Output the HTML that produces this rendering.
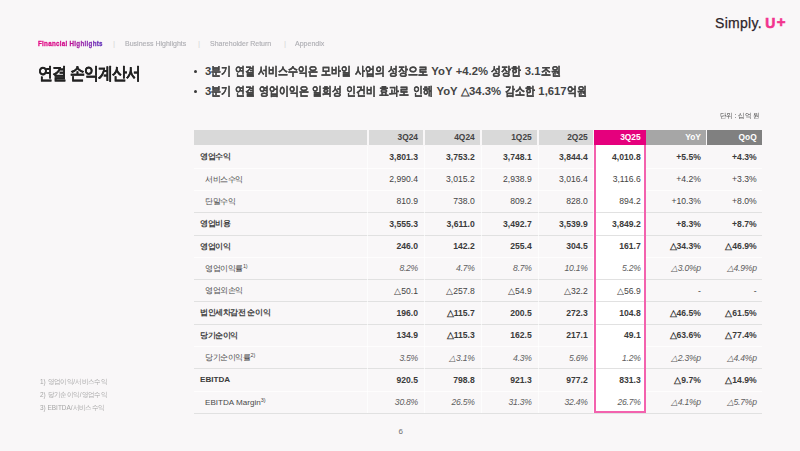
<!DOCTYPE html>
<html><head><meta charset="utf-8">
<style>
*{margin:0;padding:0;box-sizing:border-box}
html,body{width:800px;height:451px;overflow:hidden;background:#f9f7f8;font-family:"Liberation Sans",sans-serif;color:#333}
.abs{position:absolute;white-space:nowrap;transform-origin:0 0}
.k{display:inline-block;transform-origin:0 50%}
.nav{font-weight:bold;color:#b9b9bd;line-height:10px}
.on{background:linear-gradient(90deg,#e4007f 0%,#d0088a 40%,#8a28b0 75%,#5a2db8 100%);-webkit-background-clip:text;background-clip:text;color:transparent}
.sep{color:#d6d6d6;line-height:10px}
.title{font-weight:bold;color:#222;line-height:23px}
.bul{font-weight:bold;color:#444;line-height:16px}
.dot{position:absolute;width:3px;height:3px;border-radius:50%;background:#3a3a3a}
.unit{color:#3a3a3a;line-height:10px}
.logo{color:#2d2328;line-height:16px}
.logo span{color:#f2348e;font-weight:bold}
.foot{color:#a5a5a5;line-height:10px}
.hd{position:absolute;top:130px;height:14.5px;background:#d9d9d9;color:#444;font-size:8.4px;font-weight:bold;text-align:right;padding-right:5.3px;line-height:15px}
.r{position:absolute;left:194px;width:568px;height:22.3px}
.r .c{position:absolute;top:0.1px;height:22.3px;line-height:22.3px;font-size:8.6px;text-align:right;color:#444;padding-right:5.3px;white-space:nowrap}
.r .lab{position:absolute;top:0.6px;height:22.3px;line-height:22.3px;font-size:8.1px;color:#4a4a4a;white-space:nowrap}
.r.b .c,.r.b .lab{font-weight:bold;color:#3b3b3b}
.r.it .c{font-style:italic;color:#5e5e5e;letter-spacing:-0.25px}
.lab sup{font-size:5.5px;vertical-align:3px;line-height:0;letter-spacing:-0.2px;font-weight:normal}
.ln{position:absolute;left:194px;width:568px}
.ln.g{height:1px;background:#e1e1e1}
.ln.w{height:1px;background:rgba(255,255,255,.75)}
.vl{position:absolute;top:146px;width:1px;height:267px;background:rgba(255,255,255,.7)}
.boxbg{position:absolute;background:#fff}
.boxb{position:absolute;border:2px solid #f362ae;border-top:none}
</style></head><body>
<div id="logo" class="abs logo" style="left:715px;top:16px;font-size:14px;line-height:14px;letter-spacing:0.3px;-webkit-text-stroke:0.25px #2d2328">Simply.</div>
<div id="logoU" class="abs logo" style="left:765px;top:16px;font-size:14px;line-height:14px;color:#f2348e;font-weight:bold;-webkit-text-stroke:0.6px #f2348e;left:765.3px">U</div>
<div id="logoP" class="abs logo" style="left:776px;top:16px;font-size:14px;line-height:14px;color:#f2348e;font-weight:bold;-webkit-text-stroke:0.6px #f2348e;left:776.8px;font-size:15px;top:15px">+</div>
<div id="nav1" class="abs nav on" style="left:38px;top:39px;font-size:7.6px;font-size:7.8px;letter-spacing:0.35px;transform:scaleX(0.80);-webkit-text-stroke:0.3px transparent">Financial Highlights</div>
<div id="sep1" class="abs sep" style="left:113px;top:39px;font-size:8px">|</div>
<div id="nav2" class="abs nav" style="left:125px;top:39px;font-size:7.6px;font-weight:normal;letter-spacing:0px;font-size:7.8px;transform:scaleX(0.9);-webkit-text-stroke:0.15px #aeaeb3;color:#aeaeb3">Business Highlights</div>
<div id="sep2" class="abs sep" style="left:198px;top:39px;font-size:8px">|</div>
<div id="nav3" class="abs nav" style="left:210px;top:39px;font-size:7.6px;font-weight:normal;letter-spacing:0px;font-size:7.8px;transform:scaleX(0.9);-webkit-text-stroke:0.15px #aeaeb3;color:#aeaeb3">Shareholder Return</div>
<div id="sep3" class="abs sep" style="left:284px;top:39px;font-size:8px">|</div>
<div id="nav4" class="abs nav" style="left:295px;top:39px;font-size:7.6px;font-weight:normal;letter-spacing:0px;font-size:7.8px;transform:scaleX(0.9);-webkit-text-stroke:0.15px #aeaeb3;color:#aeaeb3">Appendix</div>
<div id="title" class="abs title" style="left:38px;top:62px;font-size:17px;word-spacing:-1px"><span class="k" style="transform:scaleX(0.88);margin-right:-3.82px;letter-spacing:-1.1px;-webkit-text-stroke:0.2px">연결</span> <span class="k" style="transform:scaleX(0.88);margin-right:-9.54px;letter-spacing:-1.1px;-webkit-text-stroke:0.2px">손익계산서</span></div>
<div class="dot" style="left:194.3px;top:69.5px"></div><div class="dot" style="left:194.3px;top:89.7px"></div>
<div id="bul1" class="abs bul" style="left:205px;top:63px;font-size:11.8px;word-spacing:0.25px"><span style="font-size:11.3px;">3</span><span class="k" style="transform:scaleX(0.83);margin-right:-4.01px;letter-spacing:0px;-webkit-text-stroke:0.25px">분기</span><span style="font-size:11.3px;"> </span><span class="k" style="transform:scaleX(0.83);margin-right:-4.01px;letter-spacing:0px;-webkit-text-stroke:0.25px">연결</span><span style="font-size:11.3px;"> </span><span class="k" style="transform:scaleX(0.83);margin-right:-12.04px;letter-spacing:0px;-webkit-text-stroke:0.25px">서비스수익은</span><span style="font-size:11.3px;"> </span><span class="k" style="transform:scaleX(0.83);margin-right:-6.02px;letter-spacing:0px;-webkit-text-stroke:0.25px">모바일</span><span style="font-size:11.3px;"> </span><span class="k" style="transform:scaleX(0.83);margin-right:-6.02px;letter-spacing:0px;-webkit-text-stroke:0.25px">사업의</span><span style="font-size:11.3px;"> </span><span class="k" style="transform:scaleX(0.83);margin-right:-8.02px;letter-spacing:0px;-webkit-text-stroke:0.25px">성장으로</span><span style="font-size:11.3px;"> YoY +4.2% </span><span class="k" style="transform:scaleX(0.83);margin-right:-6.02px;letter-spacing:0px;-webkit-text-stroke:0.25px">성장한</span><span style="font-size:11.3px;"> 3.1</span><span class="k" style="transform:scaleX(0.83);margin-right:-4.01px;letter-spacing:0px;-webkit-text-stroke:0.25px">조원</span></div>
<div id="bul2" class="abs bul" style="left:205px;top:83px;font-size:11.8px;word-spacing:0.5px"><span style="font-size:11.3px;">3</span><span class="k" style="transform:scaleX(0.83);margin-right:-4.01px;letter-spacing:0px;-webkit-text-stroke:0.25px">분기</span><span style="font-size:11.3px;"> </span><span class="k" style="transform:scaleX(0.83);margin-right:-4.01px;letter-spacing:0px;-webkit-text-stroke:0.25px">연결</span><span style="font-size:11.3px;"> </span><span class="k" style="transform:scaleX(0.83);margin-right:-10.03px;letter-spacing:0px;-webkit-text-stroke:0.25px">영업이익은</span><span style="font-size:11.3px;"> </span><span class="k" style="transform:scaleX(0.83);margin-right:-6.02px;letter-spacing:0px;-webkit-text-stroke:0.25px">일회성</span><span style="font-size:11.3px;"> </span><span class="k" style="transform:scaleX(0.83);margin-right:-6.02px;letter-spacing:0px;-webkit-text-stroke:0.25px">인건비</span><span style="font-size:11.3px;"> </span><span class="k" style="transform:scaleX(0.83);margin-right:-6.02px;letter-spacing:0px;-webkit-text-stroke:0.25px">효과로</span><span style="font-size:11.3px;"> </span><span class="k" style="transform:scaleX(0.83);margin-right:-4.01px;letter-spacing:0px;-webkit-text-stroke:0.25px">인해</span><span style="font-size:11.3px;"> YoY △34.3% </span><span class="k" style="transform:scaleX(0.83);margin-right:-6.02px;letter-spacing:0px;-webkit-text-stroke:0.25px">감소한</span><span style="font-size:11.3px;"> 1,617</span><span class="k" style="transform:scaleX(0.83);margin-right:-4.01px;letter-spacing:0px;-webkit-text-stroke:0.25px">억원</span></div>
<div id="unit" class="abs unit" style="left:720px;top:111px;font-size:7px;font-size:7px;letter-spacing:0px;transform:scaleX(0.92)">단위 : 십억 원</div>
<div class="hd" style="left:194px;width:172.8px"></div>
<div class="hd" style="left:368.7px;width:54.6px;background:#d9d9d9;color:#444">3Q24</div>
<div class="hd" style="left:425px;width:55.0px;background:#d9d9d9;color:#444">4Q24</div>
<div class="hd" style="left:481.5px;width:55.5px;background:#d9d9d9;color:#444">1Q25</div>
<div class="hd" style="left:538.5px;width:54.5px;background:#d9d9d9;color:#444">2Q25</div>
<div class="hd" style="left:593.8px;width:52.2px;background:#e5007d;color:#fff">3Q25</div>
<div class="hd" style="left:646px;width:60.2px;background:#a6a6a6;color:#fff">YoY</div>
<div class="hd" style="left:707px;width:55.0px;background:#808080;color:#fff">QoQ</div>
<div class="boxbg" style="left:594px;top:144.5px;width:52px;height:268.5px"></div>
<div class="ln w" style="top:167.6px"></div>
<div class="ln w" style="top:189.9px"></div>
<div class="ln g" style="top:212.2px"></div>
<div class="ln g" style="top:234.5px"></div>
<div class="ln w" style="top:256.8px"></div>
<div class="ln g" style="top:279.1px"></div>
<div class="ln g" style="top:301.4px"></div>
<div class="ln g" style="top:323.7px"></div>
<div class="ln w" style="top:346.0px"></div>
<div class="ln g" style="top:368.3px"></div>
<div class="ln w" style="top:390.6px"></div>
<div class="ln g" style="top:412.9px"></div>
<div class="vl" style="left:367.3px"></div>
<div class="vl" style="left:424px"></div>
<div class="vl" style="left:480.6px"></div>
<div class="vl" style="left:537.6px"></div>
<div class="vl" style="left:593px"></div>
<div class="r b" style="top:145.8px">
<div class="lab" id="lab0" style="left:6px"><span style="letter-spacing:-0.4px">영업수익</span></div>
<div class="c" style="left:174.7px;width:54.6px">3,801.3</div>
<div class="c" style="left:231.0px;width:55.0px">3,753.2</div>
<div class="c" style="left:287.5px;width:55.5px">3,748.1</div>
<div class="c" style="left:344.5px;width:54.5px">3,844.4</div>
<div class="c" style="left:399.8px;width:52.2px">4,010.8</div>
<div class="c" style="left:452.0px;width:60.2px">+5.5%</div>
<div class="c" style="left:513.0px;width:55.0px">+4.3%</div>
</div>
<div class="r s" style="top:168.1px">
<div class="lab" id="lab1" style="left:11px"><span style="letter-spacing:-0.4px">서비스수익</span></div>
<div class="c" style="left:174.7px;width:54.6px">2,990.4</div>
<div class="c" style="left:231.0px;width:55.0px">3,015.2</div>
<div class="c" style="left:287.5px;width:55.5px">2,938.9</div>
<div class="c" style="left:344.5px;width:54.5px">3,016.4</div>
<div class="c" style="left:399.8px;width:52.2px">3,116.6</div>
<div class="c" style="left:452.0px;width:60.2px">+4.2%</div>
<div class="c" style="left:513.0px;width:55.0px">+3.3%</div>
</div>
<div class="r s" style="top:190.4px">
<div class="lab" id="lab2" style="left:11px"><span style="letter-spacing:-0.4px">단말수익</span></div>
<div class="c" style="left:174.7px;width:54.6px">810.9</div>
<div class="c" style="left:231.0px;width:55.0px">738.0</div>
<div class="c" style="left:287.5px;width:55.5px">809.2</div>
<div class="c" style="left:344.5px;width:54.5px">828.0</div>
<div class="c" style="left:399.8px;width:52.2px">894.2</div>
<div class="c" style="left:452.0px;width:60.2px">+10.3%</div>
<div class="c" style="left:513.0px;width:55.0px">+8.0%</div>
</div>
<div class="r b" style="top:212.7px">
<div class="lab" id="lab3" style="left:6px"><span style="letter-spacing:-0.4px">영업비용</span></div>
<div class="c" style="left:174.7px;width:54.6px">3,555.3</div>
<div class="c" style="left:231.0px;width:55.0px">3,611.0</div>
<div class="c" style="left:287.5px;width:55.5px">3,492.7</div>
<div class="c" style="left:344.5px;width:54.5px">3,539.9</div>
<div class="c" style="left:399.8px;width:52.2px">3,849.2</div>
<div class="c" style="left:452.0px;width:60.2px">+8.3%</div>
<div class="c" style="left:513.0px;width:55.0px">+8.7%</div>
</div>
<div class="r b" style="top:235.0px">
<div class="lab" id="lab4" style="left:6px"><span style="letter-spacing:-0.4px">영업이익</span></div>
<div class="c" style="left:174.7px;width:54.6px">246.0</div>
<div class="c" style="left:231.0px;width:55.0px">142.2</div>
<div class="c" style="left:287.5px;width:55.5px">255.4</div>
<div class="c" style="left:344.5px;width:54.5px">304.5</div>
<div class="c" style="left:399.8px;width:52.2px">161.7</div>
<div class="c" style="left:452.0px;width:60.2px">△34.3%</div>
<div class="c" style="left:513.0px;width:55.0px">△46.9%</div>
</div>
<div class="r it" style="top:257.3px">
<div class="lab" id="lab5" style="left:11px"><span style="letter-spacing:-0.4px">영업이익률</span><sup>1)</sup></div>
<div class="c" style="left:174.7px;width:54.6px">8.2%</div>
<div class="c" style="left:231.0px;width:55.0px">4.7%</div>
<div class="c" style="left:287.5px;width:55.5px">8.7%</div>
<div class="c" style="left:344.5px;width:54.5px">10.1%</div>
<div class="c" style="left:399.8px;width:52.2px">5.2%</div>
<div class="c" style="left:452.0px;width:60.2px">△3.0%p</div>
<div class="c" style="left:513.0px;width:55.0px">△4.9%p</div>
</div>
<div class="r s" style="top:279.6px">
<div class="lab" id="lab6" style="left:11px"><span style="letter-spacing:-0.4px">영업외손익</span></div>
<div class="c" style="left:174.7px;width:54.6px">△50.1</div>
<div class="c" style="left:231.0px;width:55.0px">△257.8</div>
<div class="c" style="left:287.5px;width:55.5px">△54.9</div>
<div class="c" style="left:344.5px;width:54.5px">△32.2</div>
<div class="c" style="left:399.8px;width:52.2px">△56.9</div>
<div class="c" style="left:452.0px;width:60.2px">-</div>
<div class="c" style="left:513.0px;width:55.0px">-</div>
</div>
<div class="r b" style="top:301.9px">
<div class="lab" id="lab7" style="left:6px"><span style="letter-spacing:-0.4px">법인세차감전 순이익</span></div>
<div class="c" style="left:174.7px;width:54.6px">196.0</div>
<div class="c" style="left:231.0px;width:55.0px">△115.7</div>
<div class="c" style="left:287.5px;width:55.5px">200.5</div>
<div class="c" style="left:344.5px;width:54.5px">272.3</div>
<div class="c" style="left:399.8px;width:52.2px">104.8</div>
<div class="c" style="left:452.0px;width:60.2px">△46.5%</div>
<div class="c" style="left:513.0px;width:55.0px">△61.5%</div>
</div>
<div class="r b" style="top:324.2px">
<div class="lab" id="lab8" style="left:6px"><span style="letter-spacing:-0.4px">당기순이익</span></div>
<div class="c" style="left:174.7px;width:54.6px">134.9</div>
<div class="c" style="left:231.0px;width:55.0px">△115.3</div>
<div class="c" style="left:287.5px;width:55.5px">162.5</div>
<div class="c" style="left:344.5px;width:54.5px">217.1</div>
<div class="c" style="left:399.8px;width:52.2px">49.1</div>
<div class="c" style="left:452.0px;width:60.2px">△63.6%</div>
<div class="c" style="left:513.0px;width:55.0px">△77.4%</div>
</div>
<div class="r it" style="top:346.5px">
<div class="lab" id="lab9" style="left:11px"><span style="letter-spacing:-0.4px">당기순이익률</span><sup>2)</sup></div>
<div class="c" style="left:174.7px;width:54.6px">3.5%</div>
<div class="c" style="left:231.0px;width:55.0px">△3.1%</div>
<div class="c" style="left:287.5px;width:55.5px">4.3%</div>
<div class="c" style="left:344.5px;width:54.5px">5.6%</div>
<div class="c" style="left:399.8px;width:52.2px">1.2%</div>
<div class="c" style="left:452.0px;width:60.2px">△2.3%p</div>
<div class="c" style="left:513.0px;width:55.0px">△4.4%p</div>
</div>
<div class="r b" style="top:368.8px">
<div class="lab" id="lab10" style="left:6px">EBITDA</div>
<div class="c" style="left:174.7px;width:54.6px">920.5</div>
<div class="c" style="left:231.0px;width:55.0px">798.8</div>
<div class="c" style="left:287.5px;width:55.5px">921.3</div>
<div class="c" style="left:344.5px;width:54.5px">977.2</div>
<div class="c" style="left:399.8px;width:52.2px">831.3</div>
<div class="c" style="left:452.0px;width:60.2px">△9.7%</div>
<div class="c" style="left:513.0px;width:55.0px">△14.9%</div>
</div>
<div class="r it" style="top:391.1px">
<div class="lab" id="lab11" style="left:11px">EBITDA<span style="letter-spacing:-0.4px"> </span>Margin<sup>3)</sup></div>
<div class="c" style="left:174.7px;width:54.6px">30.8%</div>
<div class="c" style="left:231.0px;width:55.0px">26.5%</div>
<div class="c" style="left:287.5px;width:55.5px">31.3%</div>
<div class="c" style="left:344.5px;width:54.5px">32.4%</div>
<div class="c" style="left:399.8px;width:52.2px">26.7%</div>
<div class="c" style="left:452.0px;width:60.2px">△4.1%p</div>
<div class="c" style="left:513.0px;width:55.0px">△5.7%p</div>
</div>
<div class="boxb" style="left:594px;top:144.5px;width:52px;height:268.5px"></div>
<div id="foot1" class="abs foot" style="left:40px;top:377px;font-size:7px;font-size:7px;letter-spacing:0px;transform:scaleX(0.92)">1) 영업이익/서비스수익</div>
<div id="foot2" class="abs foot" style="left:40px;top:390px;font-size:7px;font-size:7px;letter-spacing:0px;transform:scaleX(0.92)">2) 당기순이익/영업수익</div>
<div id="foot3" class="abs foot" style="left:40px;top:403px;font-size:7px;font-size:7px;letter-spacing:0px;transform:scaleX(0.92)">3) EBITDA/서비스수익</div>
<div id="page" class="abs" style="left:398.5px;top:427px;font-size:8px;color:#707070;line-height:10px">6</div>
</body></html>
